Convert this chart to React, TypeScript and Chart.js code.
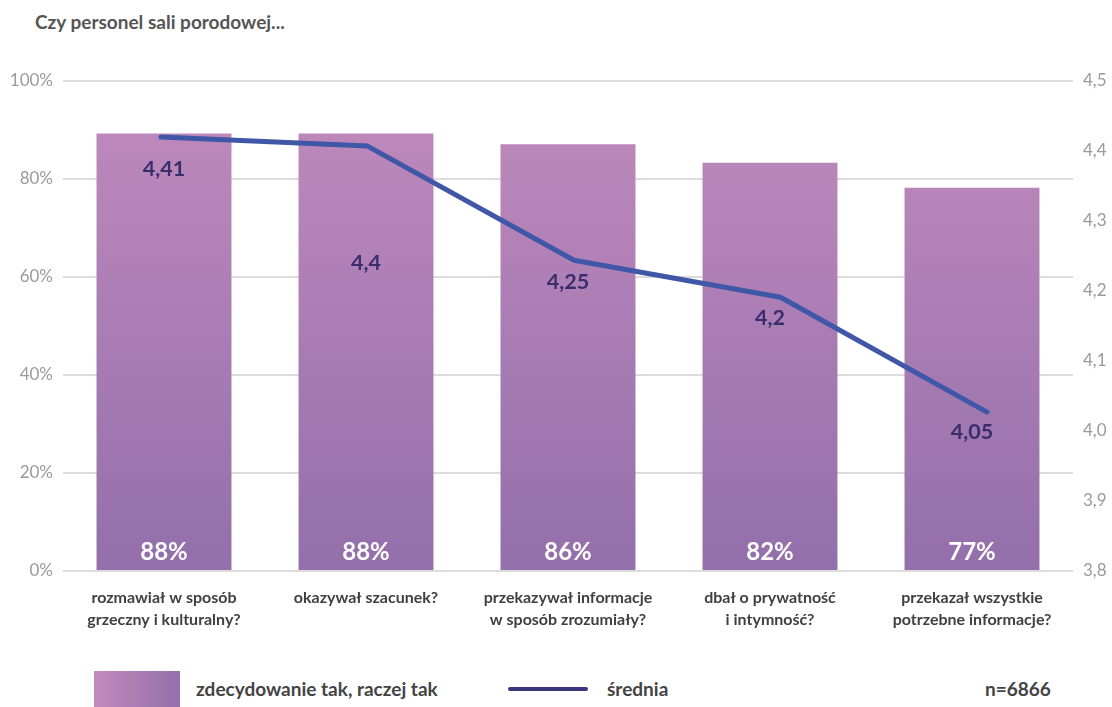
import React, { useEffect, useRef } from "react";
import { Chart, registerables } from "chart.js";

Chart.register(...registerables);

const title = "Czy personel sali porodowej...";
const categories: string[][] = [
  ["rozmawiał w sposób", "grzeczny i kulturalny?"],
  ["okazywał szacunek?"],
  ["przekazywał informacje", "w sposób zrozumiały?"],
  ["dbał o prywatność", "i intymność?"],
  ["przekazał wszystkie", "potrzebne informacje?"],
];
const barValues = [89.3, 89.3, 87.1, 83.3, 78.2];
const barLabels = ["88%", "88%", "86%", "82%", "77%"];
const lineValues = [4.42, 4.407, 4.244, 4.191, 4.027];
const lineLabels = ["4,41", "4,4", "4,25", "4,2", "4,05"];
const leftTickValues = [0, 20, 40, 60, 80, 100];
const rightTickValues = [3.8, 3.9, 4.0, 4.1, 4.2, 4.3, 4.4, 4.5];
const barSeriesName = "zdecydowanie tak, raczej tak";
const lineSeriesName = "średnia";
const sampleNote = "n=6866";

// style-only settings
const lineLabelOffsets = [32, 117, 22, 21, 20];
const FONT = "Lato, 'Open Sans', sans-serif";

const labelsPlugin = {
  id: "valueLabels",
  afterDatasetsDraw(chart: any) {
    const ctx = chart.ctx;
    const barMeta = chart.getDatasetMeta(0);
    const lineMeta = chart.getDatasetMeta(1);
    const yScale = chart.scales.y;
    ctx.save();
    ctx.textAlign = "center";
    ctx.textBaseline = "middle";
    ctx.font = `bold 24px ${FONT}`;
    ctx.fillStyle = "#ffffff";
    barMeta.data.forEach((el: any, i: number) => {
      ctx.fillText(barLabels[i], el.x, yScale.getPixelForValue(0) - 19);
    });
    ctx.font = `bold 21.5px ${FONT}`;
    ctx.fillStyle = "#3a2d6c";
    lineMeta.data.forEach((pt: any, i: number) => {
      const bx = barMeta.data[i].x;
      ctx.fillText(lineLabels[i], bx, pt.y + lineLabelOffsets[i]);
    });
    ctx.restore();
  },
};

export default function App() {
  const canvasRef = useRef<HTMLCanvasElement | null>(null);

  useEffect(() => {
    document.body.style.margin = "0";
    const canvas = canvasRef.current;
    if (!canvas) return;
    const chart = new Chart(canvas, {
      type: "bar",
      data: {
        labels: categories,
        datasets: [
          {
            type: "bar",
            label: barSeriesName,
            data: barValues,
            xAxisID: "x",
            yAxisID: "y",
            order: 1,
            grouped: false,
            barPercentage: 0.668,
            categoryPercentage: 1,
            backgroundColor: (c: any) => {
              const area = c.chart.chartArea;
              if (!area) return "#a87cb1";
              const g = c.chart.ctx.createLinearGradient(0, area.top, 0, area.bottom);
              g.addColorStop(0, "#c18bbd");
              g.addColorStop(1, "#936fab");
              return g;
            },
            borderWidth: 0,
          } as any,
          {
            type: "line",
            label: lineSeriesName,
            data: lineValues.map((v, i) => ({ x: i, y: v })),
            xAxisID: "xLine",
            yAxisID: "y2",
            order: 0,
            borderColor: "#4057a8",
            borderWidth: 5,
            pointRadius: 0,
            borderCapStyle: "round",
            borderJoinStyle: "round",
            tension: 0,
            fill: false,
          } as any,
        ],
      },
      options: {
        responsive: false,
        animation: false,
        devicePixelRatio: 1,
        layout: { padding: { top: 81, left: 0, right: 0, bottom: 0 } },
        plugins: { legend: { display: false }, tooltip: { enabled: false } },
        scales: {
          x: {
            type: "category",
            offset: true,
            grid: { display: false, drawTicks: false },
            border: { display: false },
            ticks: {
              color: "#404040",
              padding: 16,
              maxRotation: 0,
              autoSkip: false,
              font: { family: FONT, size: 16, weight: "bold", lineHeight: 1.375 },
            },
            afterFit: (s: any) => {
              s.height = 79;
            },
          },
          xLine: {
            type: "linear",
            display: false,
            offset: false,
            bounds: "data",
            min: -0.4746,
            max: 4.4165,
          },
          y: {
            position: "left",
            min: 0,
            max: 100,
            afterBuildTicks: (s: any) => {
              s.ticks = leftTickValues.map((v) => ({ value: v }));
            },
            grid: { color: "#dcdcdc", lineWidth: 2, drawTicks: false },
            border: { display: false },
            ticks: {
              color: "#9a9a9a",
              padding: 10,
              font: { family: FONT, size: 17 },
              callback: (v: any) => `${v}%`,
            },
            afterFit: (s: any) => {
              s.width = 63;
            },
          },
          y2: {
            position: "right",
            min: 3.8,
            max: 4.5,
            afterBuildTicks: (s: any) => {
              s.ticks = rightTickValues.map((v) => ({ value: v }));
            },
            grid: { display: false, drawTicks: false },
            border: { display: false },
            ticks: {
              color: "#9a9a9a",
              padding: 10,
              font: { family: FONT, size: 17 },
              callback: (v: any) => Number(v).toFixed(1).replace(".", ","),
            },
            afterFit: (s: any) => {
              s.width = 39;
            },
          },
        },
      } as any,
      plugins: [labelsPlugin],
    });
    return () => chart.destroy();
  }, []);

  const textBase: React.CSSProperties = {
    position: "absolute",
    fontFamily: FONT,
    fontWeight: "bold",
    color: "#444444",
    whiteSpace: "nowrap",
    lineHeight: "20px",
  };

  return (
    <div
      style={{
        position: "relative",
        width: 1112,
        height: 707,
        overflow: "hidden",
        background: "#ffffff",
      }}
    >
      <div style={{ ...textBase, left: 35, top: 12, fontSize: 19, color: "#555555" }}>{title}</div>
      <canvas
        ref={canvasRef}
        width={1112}
        height={650}
        style={{ position: "absolute", left: 0, top: 0, width: 1112, height: 650 }}
      />
      <div
        style={{
          position: "absolute",
          left: 94,
          top: 671,
          width: 86,
          height: 36,
          background: "linear-gradient(to right, #c18bbd, #936fab)",
        }}
      />
      <div style={{ ...textBase, left: 196, top: 679, fontSize: 19 }}>{barSeriesName}</div>
      <div
        style={{
          position: "absolute",
          left: 508,
          top: 687,
          width: 80,
          height: 4,
          borderRadius: 2,
          background: "#3b3580",
        }}
      />
      <div style={{ ...textBase, left: 607, top: 679, fontSize: 19 }}>{lineSeriesName}</div>
      <div style={{ ...textBase, left: 985, top: 679, fontSize: 19 }}>{sampleNote}</div>
    </div>
  );
}
